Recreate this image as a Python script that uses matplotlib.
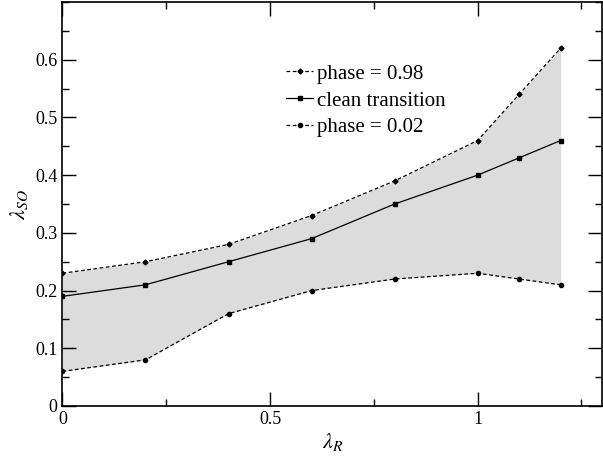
import matplotlib
matplotlib.use('Agg')
import matplotlib.pyplot as plt
from matplotlib.ticker import MultipleLocator

plt.rcParams['font.family'] = ['Liberation Serif', 'DejaVu Serif']
plt.rcParams['mathtext.fontset'] = 'stix'

# data
lam_r = [0.0, 0.2, 0.4, 0.6, 0.8, 1.0, 1.1, 1.2]
phase_098 = [0.23, 0.25, 0.28, 0.33, 0.39, 0.46, 0.54, 0.62]
clean = [0.19, 0.21, 0.25, 0.29, 0.35, 0.40, 0.43, 0.46]
phase_002 = [0.06, 0.08, 0.16, 0.20, 0.22, 0.23, 0.22, 0.21]

fig = plt.figure(figsize=(6.03, 4.57), dpi=100)
ax = fig.add_axes([0.1036, 0.1116, 0.895, 0.884])

ax.fill_between(lam_r, phase_002, phase_098, color='#dcdcdc', linewidth=0)
ax.plot(lam_r, phase_098, color='black', linestyle=(0, (3, 2)), linewidth=0.9,
        marker='D', markersize=2.5, label='phase = 0.98')
ax.plot(lam_r, clean, color='black', linestyle='-', linewidth=0.9,
        marker='s', markersize=3, label='clean transition')
ax.plot(lam_r, phase_002, color='black', linestyle=(0, (3, 2)), linewidth=0.9,
        marker='o', markersize=3, label='phase = 0.02')

ax.set_xlim(0, 1.3)
ax.set_ylim(0, 0.7)
ax.xaxis.set_minor_locator(MultipleLocator(0.25))
ax.yaxis.set_minor_locator(MultipleLocator(0.05))
ax.set_xticks([0, 0.5, 1])
ax.set_xticklabels(['0', '0.5', '1'])
ax.set_yticks([0, 0.1, 0.2, 0.3, 0.4, 0.5, 0.6])
ax.set_yticklabels(['0', '0.1', '0.2', '0.3', '0.4', '0.5', '0.6'])
ax.tick_params(which='both', direction='in', top=True, right=True, labelsize=13)
ax.tick_params(which='major', length=10, width=1)
ax.tick_params(which='minor', length=5, width=1)
for s in ax.spines.values():
    s.set_linewidth(1.2)

ax.set_xlabel(r'$\lambda_R$', fontsize=16, labelpad=2)
ax.set_ylabel(r'$\lambda_{SO}$', fontsize=16, labelpad=4)

ax.legend(loc='upper left', bbox_to_anchor=(0.395, 0.872), frameon=False,
          fontsize=15, handlelength=1.3, handletextpad=0.2, labelspacing=0.35,
          borderpad=0)

fig.savefig('out.png', dpi=100)
